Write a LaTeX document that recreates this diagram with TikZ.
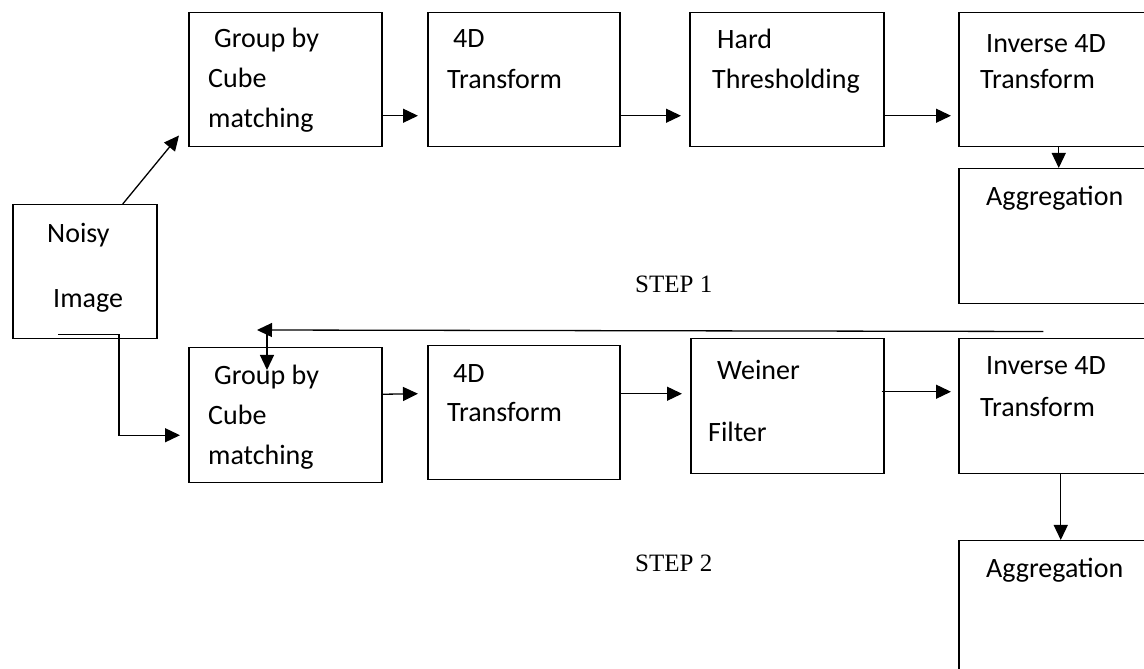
\documentclass[tikz,border=0pt]{standalone}
\usepackage{fontspec}
\setmainfont{Carlito}
\newfontfamily\stepfont{Liberation Serif}
\usetikzlibrary{arrows.meta}

\tikzset{
  stage/.style={draw, line width=1.5pt, rectangle, anchor=north west, inner sep=0pt,
    minimum width=193pt, minimum height=134pt},
  lbl/.style={anchor=base west, align=left, inner sep=0pt, font=\fontsize{28}{40}\selectfont},
  phase/.style={anchor=base west, inner sep=0pt, font=\stepfont\fontsize{25}{30}\selectfont},
  arr/.style={line width=1.3pt, -{Triangle[length=15pt,width=14pt]}},
}

\begin{document}
\begin{tikzpicture}[x=1pt, y=1pt]
  % Define page bounds
  \def\xmax{1144} \def\ymax{669}
  \useasboundingbox (0,0) rectangle (\xmax,\ymax);
  \clip (0,0) rectangle (\xmax,\ymax);

  % Input (labels sit on their last baseline)
  \node[stage, minimum width=144pt] (noisy) at (12,465) {};
  \node[lbl] (noisy-txt) at (47,361) {Noisy\\[25pt]\hspace*{6pt}Image};

  % Step 1 chain
  \node[stage] (grp1) at (188,657) {};
  \node[stage, minimum width=192pt] (tr1) at (427,657) {};
  \node[stage, minimum width=194pt] (hard) at (689,657) {};
  \node[stage] (inv1) at (958,657) {};
  \node[stage, minimum height=135pt] (agg1) at (958,501) {};

  \node[lbl] (grp1-txt) at (208,541) {\hspace*{6pt}Group by\\Cube\\matching};
  \node[lbl] (tr1-txt) at (447,580) {\hspace*{6pt}4D\\[1pt]Transform};
  \node[lbl] (hard-txt) at (712,580) {\hspace*{5pt}Hard\\Thresholding};
  \node[lbl] (inv1-txt) at (980,580) {\hspace*{6pt}Inverse 4D\\[-4pt]Transform};
  \node[lbl] (agg1-txt) at (986,463) {Aggregation};

  % Step 2 chain
  \node[stage, minimum height=135pt] (grp2) at (188,322) {};
  \node[stage, minimum width=192pt] (tr2) at (427,324) {};
  \node[stage, minimum height=135pt] (wf) at (690,331) {};
  \node[stage, minimum height=135pt] (inv2) at (958,331) {};
  \node[stage, minimum height=160pt] (agg2) at (958,129) {};

  \node[lbl] (grp2-txt) at (208,204) {\hspace*{6pt}Group by\\Cube\\matching};
  \node[lbl] (tr2-txt) at (447,247) {\hspace*{6pt}4D\\[-1pt]Transform};
  \node[lbl] (wf-txt) at (708,227) {\hspace*{9pt}Weiner\\[22pt]Filter};
  \node[lbl] (inv2-txt) at (980,252) {\hspace*{6pt}Inverse 4D\\[2pt]Transform};
  \node[lbl] (agg2-txt) at (986,91) {Aggregation};

  % Step captions
  \node[phase] (step1) at (635,376) {STEP 1};
  \node[phase] (step2) at (635,97) {STEP 2};

  % Arrows, step 1
  \draw[arr] ([xshift=38pt]noisy.north) -- ([shift={(-9,12)}]grp1.south west);
  \draw[arr] ([yshift=-36pt]grp1.east) -- ([shift={(-9,-36)}]tr1.west);
  \draw[arr] ([yshift=-36pt]tr1.east) -- ([shift={(-8,-36)}]hard.west);
  \draw[arr] ([yshift=-36pt]hard.east) -- ([shift={(-7,-36)}]inv1.west);
  \draw[arr] ([xshift=3.5pt]inv1.south) -- ([xshift=3.5pt]agg1.north);

  % Feedback into step 2
  \draw[arr] ([shift={(-12,-27)}]agg1.south) -- ([shift={(69,17)}]grp2.north west);
  \draw[arr] ([shift={(79,15)}]grp2.north west) -- ([shift={(79,-23)}]grp2.north west);

  % Arrows, step 2
  \draw[arr] ([shift={(46,5)}]noisy.south west) -- ++(61,0) |- ([shift={(-8,-20)}]grp2.west);
  \draw[arr] ([yshift=21pt]grp2.east) -- ([shift={(-9,19)}]tr2.west);
  \draw[arr] ([yshift=19pt]tr2.east) -- ([shift={(-8,12.5)}]wf.west);
  \draw[arr] ([shift={(-3,14.5)}]wf.east) -- ([shift={(-7,14.5)}]inv2.west);
  \draw[arr] ([xshift=5.5pt]inv2.south) -- ([xshift=5.5pt]agg2.north);
\end{tikzpicture}
\end{document}
